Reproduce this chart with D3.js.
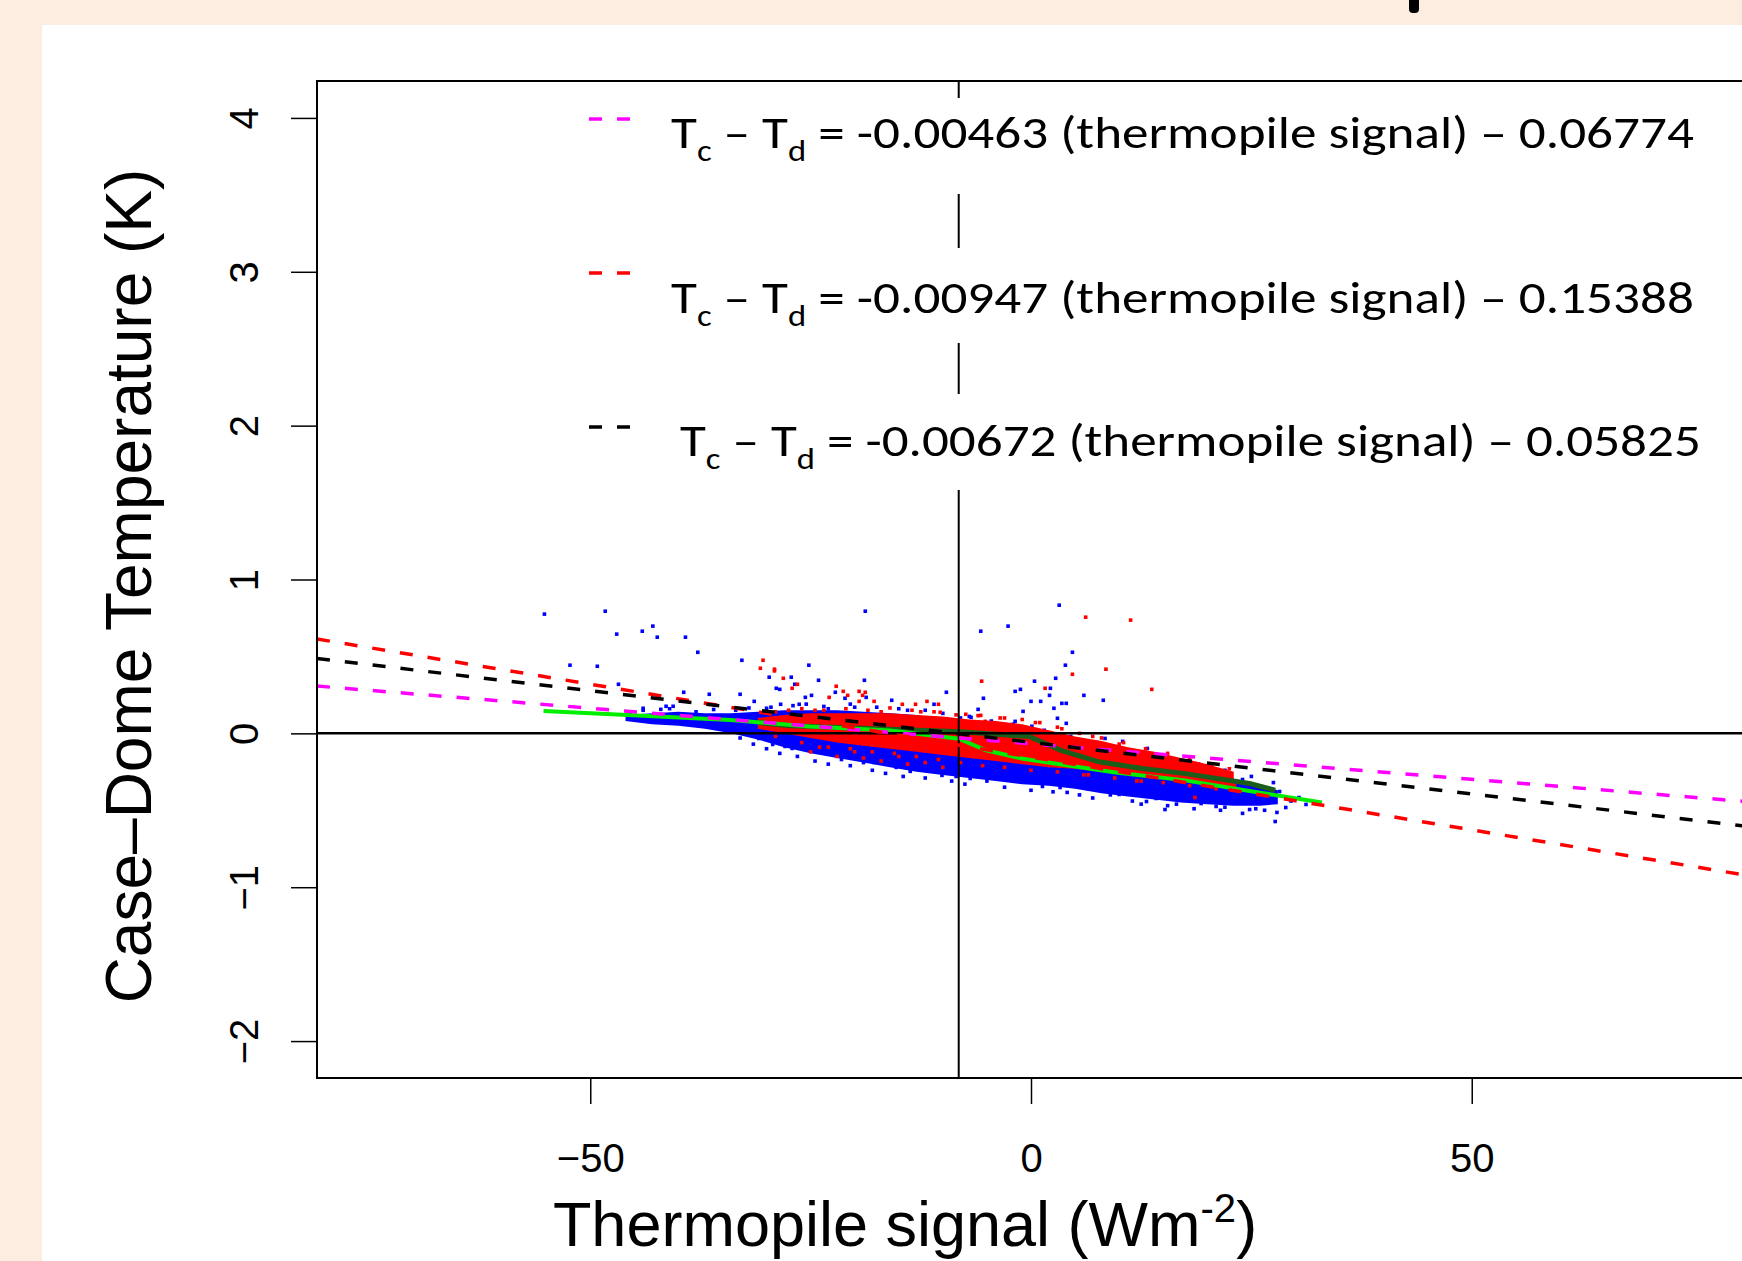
<!DOCTYPE html>
<html>
<head>
<meta charset="utf-8">
<script src="https://cdn.jsdelivr.net/npm/d3@7"></script>
<style>
  html, body { margin: 0; padding: 0; background: #fdede1; }
  svg { display: block; }
</style>
</head>
<body>
<div id="chart"></div>
<script>
// axis ticks
var xTicks = [-50, 0, 50];
var yTicks = [-2, -1, 0, 1, 2, 3, 4];

// linear fits (slope, intercept) shown in the legend
var fitSlopes = [-0.00463, -0.00947, -0.00672];
var fitIntercepts = [-0.06774, -0.15388, -0.05825];
var fitColors = ["#ff00ff", "#ff0000", "#000000"];

// vertical reference line (thermopile signal)
var refX = -8.2;

// dense part of the clouds: [x, upper, lower]
var blueBand = [
    [-46, 0.12, 0.08], [-43, 0.13, 0.06], [-40, 0.14, 0.05], [-37, 0.13, 0.03],
    [-34, 0.13, 0.0], [-31, 0.14, -0.04], [-28, 0.15, -0.09], [-25, 0.15, -0.13],
    [-22, 0.15, -0.16], [-19, 0.14, -0.19], [-16, 0.13, -0.22], [-13, 0.12, -0.25],
    [-10, 0.09, -0.27], [-7, 0.05, -0.29], [-4, 0.01, -0.31], [-1, -0.03, -0.33],
    [2, -0.08, -0.34], [5, -0.12, -0.36], [8, -0.15, -0.39], [11, -0.18, -0.41],
    [14, -0.21, -0.43], [17, -0.24, -0.45], [20, -0.27, -0.46], [23, -0.30, -0.47],
    [26, -0.34, -0.47], [28, -0.37, -0.46]
];
var redBand = [
    [-31, 0.10, 0.03], [-28, 0.12, 0.0], [-25, 0.13, -0.03], [-22, 0.13, -0.06],
    [-19, 0.13, -0.08], [-16, 0.13, -0.10], [-13, 0.12, -0.12], [-10, 0.11, -0.14],
    [-7, 0.09, -0.16], [-4, 0.08, -0.18], [-1, 0.06, -0.20], [2, 0.02, -0.22],
    [5, -0.02, -0.23], [8, -0.05, -0.25], [11, -0.09, -0.27], [14, -0.12, -0.29],
    [17, -0.16, -0.31], [20, -0.20, -0.33], [23, -0.25, -0.35]
];

// scattered points outside / at the edge of the dense part
var bluePoints = [
    [-55.2, 0.775], [-48.3, 0.794], [-47.0, 0.645], [-44.1, 0.664], [-42.9, 0.697],
    [-42.4, 0.625], [-39.2, 0.625], [-37.8, 0.527], [-52.3, 0.443], [-49.2, 0.436],
    [-46.8, 0.319], [-39.4, 0.267], [-36.5, 0.254], [-32.8, 0.475], [-33.0, 0.254],
    [-29.7, 0.365], [-28.9, 0.293], [-28.5, 0.286], [-27.2, 0.365], [-26.8, 0.319],
    [-25.2, 0.443], [-25.6, 0.234], [-31.4, 0.208], [-44.0, 0.163], [-42.0, 0.156],
    [-41.4, 0.176], [-40.6, 0.176], [-28.4, 0.189], [-30.0, 0.163], [-26.3, 0.189],
    [-18.8, 0.794], [-24.1, 0.345], [-18.9, 0.345], [-22.2, 0.267], [-24.9, 0.247],
    [-21.1, 0.228], [-18.7, 0.234], [-15.8, 0.215], [-9.6, 0.267], [-11.0, 0.189],
    [-5.7, 0.664], [-2.6, 0.697], [3.2, 0.833], [3.9, 0.443], [2.8, 0.358],
    [0.4, 0.339], [2.2, 0.293], [-1.2, 0.286], [-1.8, 0.273], [2.1, 0.247],
    [1.1, 0.208], [0.0, 0.208], [4.0, 0.195], [-0.9, 0.143], [2.6, 0.163],
    [3.0, 0.098], [-5.4, 0.228], [-6.0, 0.156], [-6.8, 0.104], [-1.8, 0.078],
    [0.1, 0.046], [4.7, 0.527], [6.0, 0.247], [8.2, 0.215], [3.5, 0.195],
    [4.0, 0.065], [8.4, -0.033], [10.4, -0.052], [13.2, -0.098],
    [-10.1, -0.273], [-13.7, -0.247], [-17.8, -0.189], [-15.3, -0.221], [-11.6, -0.234],
    [-6.9, -0.293], [-3.5, -0.286], [-0.2, -0.315], [1.3, -0.345], [3.3, -0.352],
    [15.2, -0.495], [27.7, -0.573], [27.9, -0.514], [24.8, -0.495], [28.9, -0.482],
    [30.4, -0.417], [31.2, -0.462], [28.2, -0.378], [21.0, -0.475], [19.3, -0.456],
    [13.1, -0.443], [14.2, -0.423], [10.0, -0.397], [4.1, -0.384],
    [-30.9, -0.033], [-29.9, -0.022], [-29.3, -0.072], [-27.9, -0.085], [-27.1, -0.098],
    [-26.3, -0.085], [-25.3, -0.065], [-27.7, -0.013],
    [-26.0, 0.08], [-24.0, 0.10], [-21.0, 0.12], [-18.0, 0.07], [-16.0, 0.10],
    [-13.0, 0.06], [-11.0, 0.09], [-9.0, 0.04], [-6.0, 0.05], [-3.0, 0.03],
    [-45.5, 0.135], [-38.0, 0.14], [-33.5, 0.15], [-23.0, 0.16], [-20.0, 0.17],
    [-14.0, 0.15], [-8.0, 0.10], [-21.5, -0.17], [-19.0, -0.19], [-8.5, -0.28],
    [-5.0, -0.31], [6.5, -0.36], [9.0, -0.40], [16.5, -0.46], [22.0, -0.48],
    [25.5, -0.49], [29.5, -0.44], [18.0, -0.24], [24.0, -0.30],
    // ragged lower edge
    [-33, -0.03], [-31.5, -0.07], [-30, -0.10], [-28.5, -0.13], [-26.5, -0.15],
    [-24.5, -0.18], [-23, -0.20], [-20.5, -0.21], [-18, -0.24], [-16.5, -0.26],
    [-14.5, -0.28], [-12, -0.29], [-9, -0.31], [-7.5, -0.33], [-3, -0.35],
    [0, -0.37], [2.5, -0.38], [5.5, -0.40], [7, -0.42], [11.5, -0.44],
    [12.5, -0.46], [15.5, -0.47], [18.5, -0.49], [21.5, -0.50], [24, -0.52], [26.5, -0.50],
    // ragged upper edge
    [-44, 0.15], [-41, 0.16], [-36, 0.155], [-32, 0.165], [-29.5, 0.17],
    [-27, 0.18], [-25.5, 0.19], [-23.5, 0.175], [-20.5, 0.19], [-17.5, 0.17],
    [-15, 0.16], [-12, 0.15], [-10, 0.13], [-7, 0.11], [-4.5, 0.08],
    [-2, 0.06], [1.5, 0.02], [4.5, -0.02], [7.5, -0.06], [10.5, -0.10],
    [13, -0.14], [16, -0.17], [19, -0.20], [22, -0.24], [25, -0.28], [27.5, -0.32]
];
var redPoints = [
    [-30.4, 0.475], [-30.7, 0.423], [-29.1, 0.417], [-29.1, 0.406], [-28.1, 0.358],
    [-27.1, 0.293], [-26.5, 0.319], [-5.6, 0.339], [-22.1, 0.306], [-21.3, 0.273],
    [-22.9, 0.234], [-20.8, 0.247], [-19.5, 0.273], [-18.8, 0.267], [-19.1, 0.247],
    [-19.5, 0.208], [-17.8, 0.208], [-14.6, 0.189], [-13.1, 0.189], [-11.8, 0.208],
    [-10.5, 0.189], [-10.3, 0.137], [-7.4, 0.124], [-5.7, 0.117], [-5.2, 0.078],
    [1.6, 0.293], [6.2, 0.755], [11.3, 0.736], [4.7, 0.384], [8.5, 0.417],
    [13.7, 0.286], [18.6, -0.417], [23.1, -0.339],
    [-25.0, -0.12], [-22.0, -0.15], [-19.0, -0.16], [-17.0, -0.18], [-14.0, -0.20],
    [-12.0, -0.19], [-24.0, -0.09], [-20.0, -0.12], [-15.0, -0.15], [-10.0, -0.22],
    [-24.5, 0.15], [-17.0, 0.14], [-12.5, 0.14], [-3.0, 0.10], [0.5, 0.07],
    [3.5, 0.03], [7.0, -0.02], [10.0, -0.07], [6.0, -0.27], [12.0, -0.31],
    // ragged upper edge
    [-29, 0.14], [-27.5, 0.15], [-26, 0.16], [-23.5, 0.15], [-21, 0.16],
    [-18.5, 0.15], [-16, 0.165], [-13.5, 0.15], [-11, 0.14], [-8.5, 0.12],
    [-6, 0.115], [-3.5, 0.10], [-1, 0.09], [1, 0.07], [3, 0.04],
    [5.5, 0.0], [8, -0.03], [10.5, -0.06], [13, -0.10], [15.5, -0.13],
    [18, -0.16], [20.5, -0.20], [22.5, -0.23],
    // ragged lower edge
    [-29, -0.02], [-26, -0.06], [-23, -0.09], [-20.5, -0.10], [-18, -0.12],
    [-15.5, -0.13], [-13, -0.15], [-10.5, -0.17], [-8, -0.19], [-5.5, -0.21],
    [-3, -0.22], [0, -0.24], [3, -0.25], [6.5, -0.27], [9.5, -0.29],
    [12.5, -0.31], [15, -0.32], [18, -0.34], [21, -0.36], [23.5, -0.37]
];

// smoothed curves
var greenCurve = [
    [-55.3, 0.145], [-45.8, 0.119], [-34.1, 0.087], [-25.1, 0.045], [-16, 0.018],
    [-8.2, -0.035], [-5.1, -0.11], [-0.9, -0.165], [4.4, -0.21], [9.6, -0.255],
    [17.3, -0.304], [24.8, -0.375], [33, -0.45]
];
var darkGreenCurve = [
    [-31, 0.07], [-27.3, 0.05], [-16, 0.026], [-8, 0.01], [-0.2, -0.02],
    [3.4, -0.11], [7.7, -0.185], [12.6, -0.228], [17.3, -0.26], [24.8, -0.326],
    [27.7, -0.37]
];

var width = 1742, height = 1261;
var plotLeft = 317, plotTop = 81, plotBottom = 1078, plotRight = 1745;

var svg = d3.select("#chart")
    .append("svg")
    .attr("width", width)
    .attr("height", height);

// peach frame and white panel
svg.append("rect")
    .attr("width", width).attr("height", height)
    .attr("fill", "#fdede1");
svg.append("rect")
    .attr("x", 42).attr("y", 25)
    .attr("width", width - 42).attr("height", height - 25)
    .attr("fill", "#ffffff");
// bit of a cut-off title letter at the top
svg.append("rect")
    .attr("x", 1409).attr("y", -6)
    .attr("width", 10).attr("height", 19)
    .attr("rx", 4)
    .attr("fill", "#000");

var x = d3.scaleLinear().domain([-81, 81]).range([plotLeft, plotRight]);
var y = d3.scaleLinear().domain([-2.24, 4.24]).range([plotBottom, plotTop]);

svg.append("clipPath").attr("id", "plotclip")
    .append("rect")
    .attr("x", plotLeft).attr("y", plotTop)
    .attr("width", plotRight - plotLeft).attr("height", plotBottom - plotTop);

var plot = svg.append("g").attr("clip-path", "url(#plotclip)");

// dense clouds
var band = d3.area()
    .x(function(d){ return x(d[0]); })
    .y0(function(d){ return y(d[2]); })
    .y1(function(d){ return y(d[1]); });

plot.append("path").datum(blueBand)
    .attr("d", band)
    .attr("fill", "#0000ff");

function drawPoints(data, color){
    plot.selectAll(null)
        .data(data)
        .enter()
        .append("rect")
        .attr("x", function(d){ return x(d[0]) - 1.8; })
        .attr("y", function(d){ return y(d[1]) - 1.8; })
        .attr("width", 3.6)
        .attr("height", 3.6)
        .attr("fill", color);
}

drawPoints(bluePoints, "#0000ff");

plot.append("path").datum(redBand)
    .attr("d", band)
    .attr("fill", "#ff0000");

drawPoints(redPoints, "#ff0000");

// smoothed curves
var curveLine = d3.line()
    .x(function(d){ return x(d[0]); })
    .y(function(d){ return y(d[1]); });

plot.append("path").datum(darkGreenCurve)
    .attr("d", curveLine)
    .attr("fill", "none")
    .attr("stroke", "#1a5e1a")
    .attr("stroke-width", 5);

plot.append("path").datum(greenCurve)
    .attr("d", curveLine)
    .attr("fill", "none")
    .attr("stroke", "#00ee00")
    .attr("stroke-width", 4);

// zero line and reference line
plot.append("line")
    .attr("x1", plotLeft).attr("x2", plotRight)
    .attr("y1", y(0)).attr("y2", y(0))
    .attr("stroke", "#000").attr("stroke-width", 2.5);
plot.append("line")
    .attr("x1", x(refX)).attr("x2", x(refX))
    .attr("y1", plotTop).attr("y2", plotBottom)
    .attr("stroke", "#000").attr("stroke-width", 2);

// fitted lines, dashed
fitSlopes.forEach(function(slope, i){
    var x0 = x.domain()[0], x1 = x.domain()[1];
    plot.append("line")
        .attr("x1", x(x0)).attr("y1", y(slope * x0 + fitIntercepts[i]))
        .attr("x2", x(x1)).attr("y2", y(slope * x1 + fitIntercepts[i]))
        .attr("stroke", fitColors[i])
        .attr("stroke-width", 3.5)
        .attr("stroke-dasharray", "13,15");
});

// plot box
svg.append("rect")
    .attr("x", plotLeft).attr("y", plotTop)
    .attr("width", plotRight - plotLeft).attr("height", plotBottom - plotTop)
    .attr("fill", "none")
    .attr("stroke", "#000")
    .attr("stroke-width", 2);

function fmt(d){ return d < 0 ? "\u2212" + Math.abs(d) : String(d); }

//y axis
var yAxis = svg.append("g")
    .attr("transform", "translate(" + plotLeft + ",0)")
    .call(d3.axisLeft(y).tickValues(yTicks).tickSize(26).tickSizeOuter(0).tickFormat(fmt));
yAxis.selectAll(".tick line").attr("stroke-width", 1.5);
yAxis.selectAll(".tick text")
    .attr("transform", "rotate(-90)")
    .attr("x", 0).attr("y", -59).attr("dy", 0)
    .attr("text-anchor", "middle")
    .style("font-family", "'Liberation Sans', Arial, sans-serif")
    .style("font-size", "40px")
    .attr("fill", "#000");

//x axis
var xAxis = svg.append("g")
    .attr("transform", "translate(0," + plotBottom + ")")
    .call(d3.axisBottom(x).tickValues(xTicks).tickSize(26).tickSizeOuter(0).tickFormat(fmt));
xAxis.selectAll(".tick line").attr("stroke-width", 1.5);
xAxis.selectAll(".tick text")
    .attr("y", 94).attr("dy", 0)
    .style("font-family", "'Liberation Sans', Arial, sans-serif")
    .style("font-size", "40px")
    .attr("fill", "#000");
svg.selectAll(".domain").remove();

// axis titles
svg.append("text")
    .attr("transform", "translate(151,586) rotate(-90)")
    .attr("text-anchor", "middle")
    .style("font-family", "'Liberation Sans', Arial, sans-serif")
    .style("font-size", "64px")
    .text("Case\u2013Dome Temperature (K)");

var xTitle = svg.append("text")
    .attr("x", 905).attr("y", 1246)
    .attr("text-anchor", "middle")
    .style("font-family", "'Liberation Sans', Arial, sans-serif")
    .style("font-size", "63px");
xTitle.append("tspan").text("Thermopile signal (Wm");
xTitle.append("tspan").attr("dy", -24).style("font-size", "40px").text("-2");
xTitle.append("tspan").attr("dy", 24).text(")");

// legend: white boxes, dash samples, equations
var legendBase = [148, 313, 456],
    legendLeft = [671, 671, 680],
    legendWidth = [1023, 1023, 1021],
    legendDashY = [119, 273, 427],
    legendBox = [[98, 194], [248, 343], [394, 490]];

fitSlopes.forEach(function(slope, i){
    svg.append("rect")
        .attr("x", 650).attr("y", legendBox[i][0])
        .attr("width", 1080).attr("height", legendBox[i][1] - legendBox[i][0])
        .attr("fill", "#fff");

    svg.append("line")
        .attr("x1", 589).attr("x2", 632)
        .attr("y1", legendDashY[i]).attr("y2", legendDashY[i])
        .attr("stroke", fitColors[i])
        .attr("stroke-width", 3.5)
        .attr("stroke-dasharray", "13,15");

    var g = svg.append("g");
    var t = g.append("text")
        .attr("x", 0).attr("y", 0)
        .style("font-family", "Carlito, Lato, 'Open Sans', sans-serif")
        .style("font-size", "46px")
        .attr("fill", "#000");
    t.append("tspan").text("T");
    t.append("tspan").attr("dy", 13).style("font-size", "30px").text("c");
    t.append("tspan").attr("dy", -13).text(" \u2013 T");
    t.append("tspan").attr("dy", 13).style("font-size", "30px").text("d");
    t.append("tspan").attr("dy", -13)
        .text(" = " + slope.toFixed(5) + " (thermopile signal) \u2013 " + Math.abs(fitIntercepts[i]).toFixed(5));

    // stretch to the width of the original label
    var w = t.node().getBBox().width;
    g.attr("transform", "translate(" + legendLeft[i] + "," + legendBase[i] + ") scale(" + (legendWidth[i] / w) + ",1)");
});
</script>
</body>
</html>
